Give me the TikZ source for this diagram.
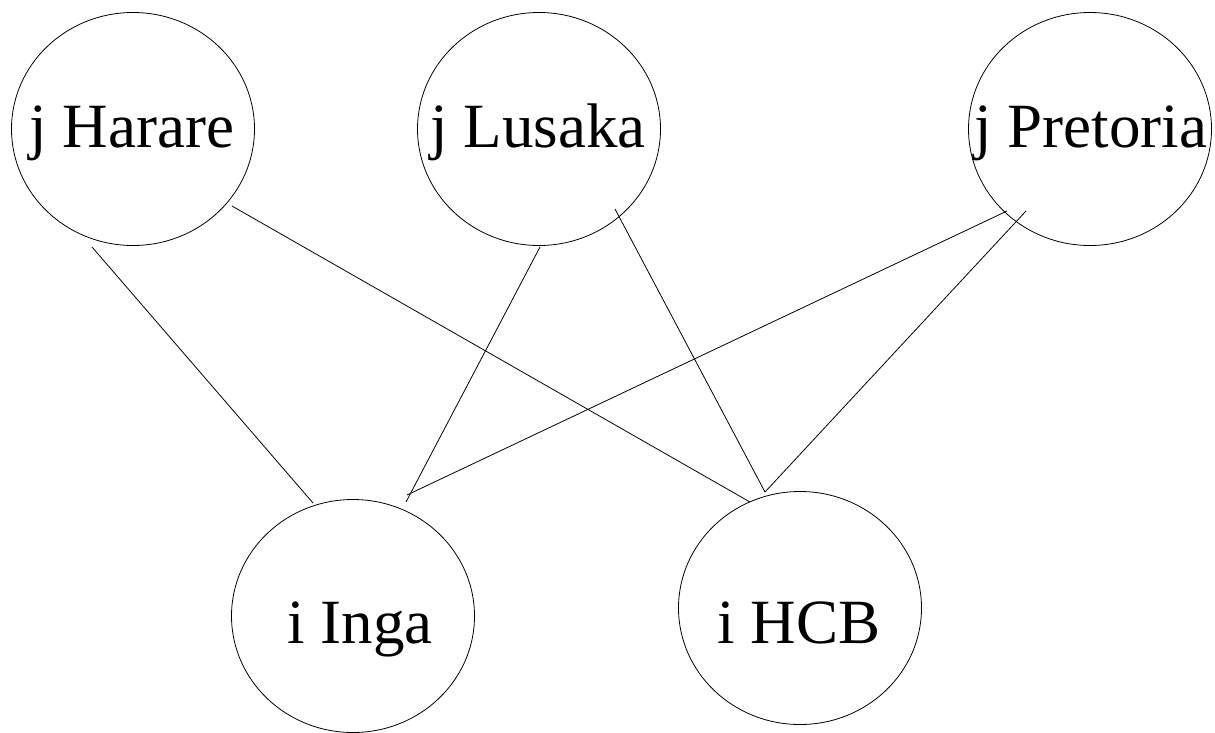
\documentclass[tikz,border=0pt]{standalone}
\usepackage{fontspec}
\setmainfont{Liberation Serif}
\usetikzlibrary{shapes.geometric}
\begin{document}
\begin{tikzpicture}[x=1pt,y=-1pt,
  ell/.style={draw,ellipse,line width=0.8pt,inner sep=0pt,outer sep=0pt,minimum width=243pt,minimum height=233pt},
  txt/.style={anchor=base,inner sep=0pt,font=\fontsize{63}{70}\selectfont},
  edge/.style={line width=0.8pt}]
\useasboundingbox (0,0) rectangle (1215,732);
% ellipses
\node[ell] (harare) at (133,129) {};
\node[ell] (lusaka) at (539,129) {};
\node[ell] (pretoria) at (1090,129) {};
\node[ell] (inga) at (353,616) {};
\node[ell] (hcb) at (800,608) {};
% labels
\node[txt] (tharare) at (132,147) {j Harare};
\node[txt] (tlusaka) at (538,147) {j Lusaka};
\node[txt] (tpretoria) at (1091,147) {j Pretoria};
\node[txt] (tinga) at (360,643) {i Inga};
\node[txt] (thcb) at (799,643) {i HCB};
% connector end points
\coordinate (hA) at (92,247);
\coordinate (hB) at (232,206);
\coordinate (lA) at (540,247);
\coordinate (lB) at (615,209);
\coordinate (pA) at (1007,211);
\coordinate (pB) at (1026,211);
\coordinate (iA) at (313,503);
\coordinate (iB) at (406,502);
\coordinate (iC) at (407,495);
\coordinate (cA) at (750,502);
\coordinate (cB) at (765,492);
% connectors
\draw[edge] (hA) -- (iA);
\draw[edge] (hB) -- (cA);
\draw[edge] (lA) -- (iB);
\draw[edge] (lB) -- (cB);
\draw[edge] (pA) -- (iC);
\draw[edge] (pB) -- (cB);
\end{tikzpicture}
\end{document}
